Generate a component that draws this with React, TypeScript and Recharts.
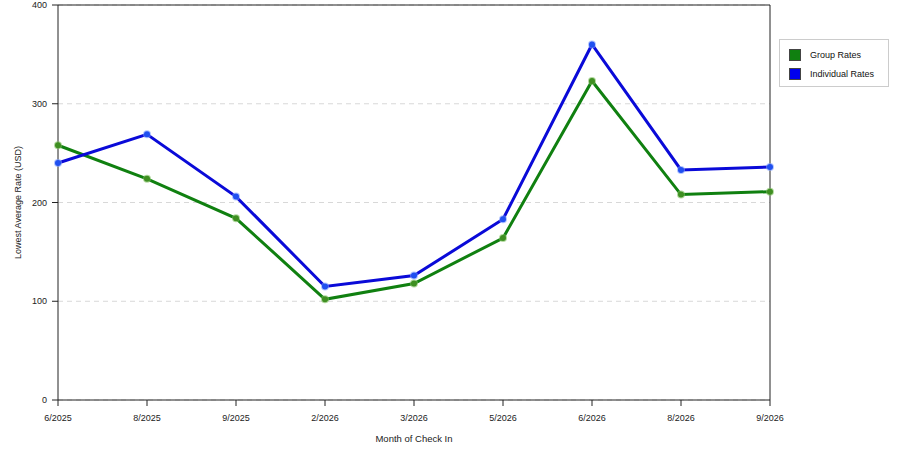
import React from "react";
import {
  LineChart,
  Line,
  XAxis,
  YAxis,
  CartesianGrid,
  Legend,
  ReferenceLine,
} from "recharts";

const months = ["6/2025", "8/2025", "9/2025", "2/2026", "3/2026", "5/2026", "6/2026", "8/2026", "9/2026"];
const groupRates = [258, 224, 184, 102, 118, 164, 323, 208, 211];
const individualRates = [240, 269, 206, 115, 126, 183, 360, 233, 236];
const yTicks = [0, 100, 200, 300, 400];

const data = months.map((m, i) => ({
  month: m,
  group: groupRates[i],
  individual: individualRates[i],
}));

const FONT = "'Liberation Sans', Arial, sans-serif";

const LegendBox = () => (
  <div
    style={{
      border: "1px solid #ccc",
      background: "#fff",
      width: 110,
      height: 48,
      boxSizing: "border-box",
      padding: "5px 0 0 9px",
      fontFamily: FONT,
      fontSize: 9,
      color: "#111",
    }}
  >
    {[
      { label: "Group Rates", color: "#108010" },
      { label: "Individual Rates", color: "#0000ee" },
    ].map((it) => (
      <div key={it.label} style={{ display: "flex", alignItems: "center", height: 19 }}>
        <div
          style={{
            width: 12,
            height: 12,
            background: it.color,
            border: "1px solid #444",
            boxSizing: "border-box",
            marginRight: 9,
          }}
        />
        <span>{it.label}</span>
      </div>
    ))}
  </div>
);

const makeDot = (fill: string, halo: string) => (props: any) => {
  const { cx, cy, index } = props;
  if (cx == null || cy == null) return null;
  return (
    <g key={index}>
      <circle cx={cx} cy={cy} r={4} fill={halo} opacity={0.6} />
      <circle cx={cx} cy={cy} r={3} fill={fill} />
    </g>
  );
};

export default function App() {
  return (
    <div style={{ position: "absolute", left: 0, top: 0, width: 900, height: 450, background: "#fff" }}>
      <LineChart
        width={900}
        height={450}
        data={data}
        margin={{ top: 5, right: 20, bottom: 0, left: 0 }}
      >
        <CartesianGrid
          horizontal={true}
          vertical={false}
          stroke="#d8d8d8"
          strokeDasharray="5 4"
        />
        <XAxis
          dataKey="month"
          height={50}
          tickLine={{ stroke: "#222" }}
          tickSize={6}
          tickMargin={9}
          axisLine={{ stroke: "#222" }}
          tick={{ fontSize: 9, fill: "#222", fontFamily: FONT }}
          interval={0}
          padding={{ left: 0, right: 0 }}
          label={{
            value: "Month of Check In",
            position: "insideBottom",
            offset: 8,
            fontSize: 9.5,
            fill: "#222",
            fontFamily: FONT,
            dx: 0,
          }}
        />
        <YAxis
          width={58}
          domain={[0, 400]}
          ticks={yTicks}
          tickLine={{ stroke: "#222" }}
          tickSize={6}
          tickMargin={5}
          axisLine={{ stroke: "#222" }}
          tick={{ fontSize: 9, fill: "#222", fontFamily: FONT }}
          label={{
            value: "Lowest Average Rate (USD)",
            angle: -90,
            position: "insideLeft",
            offset: 18,
            fontSize: 9,
            fill: "#222",
            fontFamily: FONT,
            style: { textAnchor: "middle" },
          }}
        />
        <ReferenceLine y={400} stroke="#222" strokeWidth={1} />
        <ReferenceLine x="9/2026" stroke="#222" strokeWidth={1} />
        <Legend
          layout="vertical"
          align="right"
          verticalAlign="top"
          content={<LegendBox />}
          wrapperStyle={{ width: 110, left: 779, top: 39, right: "auto" }}
        />
        <Line
          type="linear"
          dataKey="group"
          name="Group Rates"
          stroke="#108010"
          strokeWidth={3}
          dot={makeDot("#3f8f22", "#7fbf5f")}
          activeDot={false}
          isAnimationActive={false}
        />
        <Line
          type="linear"
          dataKey="individual"
          name="Individual Rates"
          stroke="#0a0ad8"
          strokeWidth={3}
          dot={makeDot("#2050f0", "#7f9fff")}
          activeDot={false}
          isAnimationActive={false}
        />
      </LineChart>
    </div>
  );
}
